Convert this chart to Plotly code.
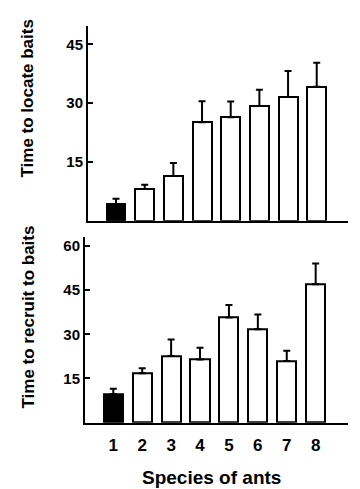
import plotly.graph_objects as go

species = [1, 2, 3, 4, 5, 6, 7, 8]
species_labels = ["1", "2", "3", "4", "5", "6", "7", "8"]

locate_mean = [4.2, 8.1, 11.4, 25.1, 26.4, 29.3, 31.6, 34.2]
locate_err = [1.4, 1.1, 3.3, 5.4, 4.0, 4.1, 6.6, 6.1]

recruit_mean = [9.7, 16.8, 22.6, 21.4, 35.7, 31.7, 20.9, 47.0]
recruit_err = [1.8, 1.7, 5.6, 4.0, 4.2, 5.0, 3.5, 7.0]

top_ticks = [15, 30, 45]
bottom_ticks = [15, 30, 45, 60]

fill_colors = ["black"] + ["white"] * 7
FONT = "Liberation Sans, Arial, Helvetica, sans-serif"

fig = go.Figure()

def add_bars(means, errs, xa, ya):
    fig.add_trace(go.Bar(
        x=species, y=means, xaxis=xa, yaxis=ya,
        width=0.66,
        marker=dict(color=fill_colors, line=dict(color="black", width=2)),
        error_y=dict(type="data", symmetric=False, array=errs,
                     arrayminus=[0] * len(errs),
                     color="black", thickness=2, width=3.5),
        showlegend=False,
    ))

add_bars(locate_mean, locate_err, "x", "y")
add_bars(recruit_mean, recruit_err, "x2", "y2")

axis_common = dict(showgrid=False, zeroline=False, showline=True,
                   linecolor="black", linewidth=2)

fig.update_layout(
    width=360, height=489,
    margin=dict(l=0, r=0, t=0, b=0),
    paper_bgcolor="white", plot_bgcolor="white",
    font=dict(family=FONT, color="black"),
    bargap=0,
    xaxis=dict(domain=[88 / 360, 347.7 / 360], range=[0.023, 9.08],
               anchor="y", showticklabels=False, ticks="", **axis_common),
    yaxis=dict(domain=[1 - 220.7 / 489, 1 - 26 / 489], range=[0, 49.7],
               anchor="x", tickvals=top_ticks, ticks="inside", ticklen=5,
               tickwidth=2, tickcolor="black",
               tickfont=dict(size=15, family=FONT, weight="bold"),
               **axis_common),
    xaxis2=dict(domain=[85 / 360, 347.7 / 360], range=[0.021, 9.108],
                anchor="y2", tickvals=species, ticktext=species_labels,
                ticks="", ticklabelstandoff=6,
                tickfont=dict(size=17, family=FONT, weight="bold"),
                **axis_common),
    yaxis2=dict(domain=[1 - 422.7 / 489, 1 - 237.3 / 489], range=[0, 62.9],
                anchor="x2", tickvals=bottom_ticks, ticks="inside", ticklen=5,
                tickwidth=2, tickcolor="black",
                tickfont=dict(size=15, family=FONT, weight="bold"),
                **axis_common),
    annotations=[
        dict(text="Time to locate baits", textangle=-90, showarrow=False,
             xref="paper", yref="paper", x=27.5 / 360, y=1 - 99 / 489,
             xanchor="center", yanchor="middle",
             font=dict(size=17, family=FONT, weight="bold")),
        dict(text="Time to recruit to baits", textangle=-90, showarrow=False,
             xref="paper", yref="paper", x=27.5 / 360, y=1 - 317 / 489,
             xanchor="center", yanchor="middle",
             font=dict(size=17, family=FONT, weight="bold")),
        dict(text="Species of ants", showarrow=False,
             xref="paper", yref="paper", x=211 / 360, y=1 - 477 / 489,
             xanchor="center", yanchor="middle",
             font=dict(size=19, family=FONT, weight="bold")),
    ],
)

fig.write_html("out.html", config={"displayModeBar": False})

# remove the browser's default 8px body margin so the figure fills the window
with open("out.html", "r", encoding="utf-8") as f:
    html = f.read()
html = html.replace("<body>", '<body style="margin:0;overflow:hidden">', 1)
with open("out.html", "w", encoding="utf-8") as f:
    f.write(html)
